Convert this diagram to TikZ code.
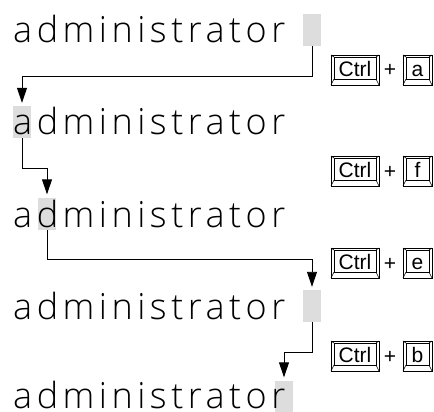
\documentclass[tikz,border=0pt]{standalone}
\usepackage{fontspec}
\setmainfont{Open Sans}
\newfontfamily\wordfont[LetterSpace=12.5]{Open Sans Light}
\newfontfamily\keyfont{Liberation Sans}
\usetikzlibrary{arrows.meta}
\definecolor{curgray}{RGB}{221,221,221}
\tikzset{
  word/.style={anchor=base west, inner sep=0pt, font=\wordfont\fontsize{36}{36}\selectfont},
  cursor/.style={fill=curgray, draw=none, minimum width=18pt, minimum height=32pt, inner sep=0pt},
  link/.style={draw=black, line width=0.9pt, -{Triangle[length=15pt,width=10pt]}, shorten >=3pt},
  keyline/.style={line width=0.6pt},
  keylabel/.style={anchor=base, font=\keyfont\fontsize{21}{21}\selectfont, inner sep=0pt},
}
\newcommand\keycap[6]{%
  \draw[keyline] (#2,#3) rectangle (#4,#5);
  \draw[keyline] (#2+3,#3+2) rectangle (#4-3,#5-6);
  \draw[keyline] (#2,#3) -- (#2+3,#3+2) (#4,#3) -- (#4-3,#3+2)
                 (#2,#5) -- (#2+3,#5-6) (#4,#5) -- (#4-3,#5-6);
  \node[keylabel] (#1) at ({(#2+#4)/2},#5-8.5) {#6};
}
\begin{document}
\begin{tikzpicture}[x=1pt,y=-1pt]
\useasboundingbox (0,0) rectangle (434,412);
% cursors
\node[cursor] (b1) at (312,30) {};
\node[cursor] (b2) at (22,122) {};
\node[cursor] (b3) at (47,213.5) {};
\node[cursor] (b4) at (312,306) {};
\node[cursor] (b5) at (284,396.5) {};
% words
\node[word] (w1) at (13,43) {administrator};
\node[word] (w2) at (13,134) {administrator};
\node[word] (w3) at (13,227) {administrator};
\node[word] (w4) at (13,319) {administrator};
\node[word] (w5) at (13,408.5) {administrator};
% connectors
\coordinate (h1) at (0,76);
\coordinate (h2) at (0,168);
\coordinate (h3) at (0,259);
\coordinate (h4) at (0,352);
\draw[link] (b1.south) |- (h1 -| b2.north) -- (b2.north);
\draw[link] (b2.south) |- (h2 -| b3.north) -- (b3.north);
\draw[link] (b3.south) |- (h3 -| b4.north) -- (b4.north);
\draw[link] (b4.south) |- (h4 -| b5.north) -- (b5.north);
% keys
\keycap{ka1}{331}{55}{379}{85}{Ctrl}
\node[keylabel] (pa) at (390,77) {+};
\keycap{ka2}{403}{55}{432}{85}{a}
\keycap{kf1}{331}{156}{379}{186}{Ctrl}
\node[keylabel] (pf) at (390,178) {+};
\keycap{kf2}{403}{156}{432}{186}{f}
\keycap{ke1}{331}{248}{379}{278}{Ctrl}
\node[keylabel] (pe) at (390,270) {+};
\keycap{ke2}{403}{248}{432}{278}{e}
\keycap{kb1}{331}{341}{379}{371}{Ctrl}
\node[keylabel] (pb) at (390,363) {+};
\keycap{kb2}{403}{341}{432}{371}{b}
\end{tikzpicture}
\end{document}
